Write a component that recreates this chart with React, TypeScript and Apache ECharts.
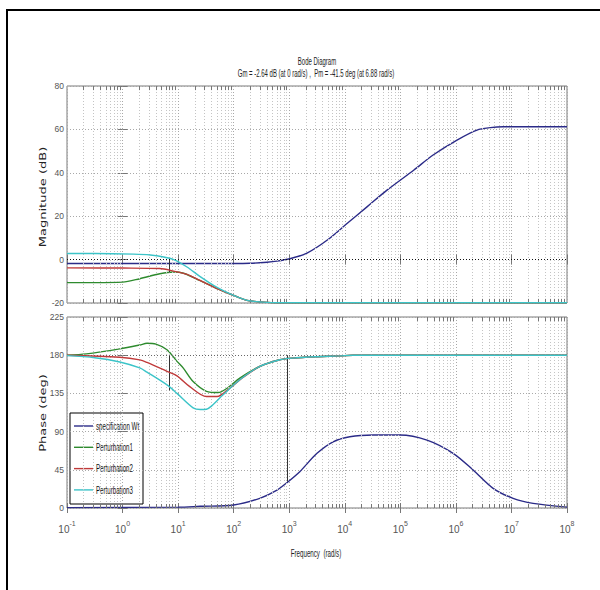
import React, { useEffect, useRef } from "react";
import * as echarts from "echarts";

// Frequencies are stored as log10(w) exponents (rad/s)
const decadeTicks = [-1, 0, 1, 2, 3, 4, 5, 6, 7, 8];

const specMagX = [-1, 1.4, 2.0, 2.29, 2.6, 2.78, 3.01, 3.32, 3.68, 4.04, 4.4, 4.76, 5.24, 5.59, 6.02, 6.38, 6.62, 6.85, 7.2, 8];
const specMagY = [-1.8, -1.8, -1.8, -1.7, -1.2, -0.7, 0.4, 3.0, 8.9, 16.6, 24.3, 32, 41.2, 48.2, 55.1, 59.7, 60.8, 61.2, 61.2, 61.2];

const p1MagX = [-1, -0.5, 0, 0.31, 0.67, 0.92, 1.1, 1.39, 1.7, 2.0, 2.24, 2.53, 2.8, 3.2, 8];
const p1MagY = [-10.6, -10.6, -10.4, -8.8, -6.5, -5.7, -6.3, -9.6, -13.4, -16.5, -18.8, -19.6, -19.9, -19.9, -19.9];

const p2MagX = [-1, 0, 0.67, 0.92, 1.16, 1.39, 1.7, 2.0, 2.24, 2.53, 2.8, 3.2, 8];
const p2MagY = [-3.8, -3.9, -4.1, -5.3, -6.8, -9.6, -13.4, -16.5, -18.8, -19.6, -19.9, -19.9, -19.9];

const p3MagX = [-1, -0.5, 0.2, 0.5, 0.74, 0.92, 1.16, 1.39, 1.7, 2.0, 2.24, 2.53, 2.8, 3.2, 8];
const p3MagY = [2.8, 2.8, 2.5, 2.1, 1.2, 0, -3.4, -7.7, -12.8, -16.5, -18.8, -19.6, -19.9, -19.9, -19.9];

const specPhX = [-1, 1.0, 1.4, 2.0, 2.47, 2.78, 2.98, 3.19, 3.5, 3.79, 4.09, 4.51, 4.99, 5.48, 5.95, 6.31, 6.67, 7.03, 7.39, 8];
const specPhY = [0.5, 1, 2, 3.5, 11.4, 21, 31, 42.8, 64.4, 78, 84, 86, 86, 80, 64.4, 44.8, 23.2, 11.4, 5.5, 1];

const p1PhX = [-1, -0.65, -0.05, 0.31, 0.44, 0.6, 0.8, 0.98, 1.09, 1.27, 1.51, 1.72, 1.9, 2.11, 2.47, 2.83, 3.07, 3.5, 3.91, 4.15, 5, 8];
const p1PhY = [180, 181.5, 187.4, 192, 194, 193, 186.5, 172.7, 165, 149, 137.5, 136, 142, 153, 166.7, 174.6, 176.6, 178.2, 179.2, 180, 180, 180];

const p2PhX = [-1, -0.05, 0.31, 0.44, 0.8, 0.98, 1.21, 1.51, 1.7, 1.93, 2.11, 2.47, 2.83, 3.07, 3.5, 3.91, 4.15, 5, 8];
const p2PhY = [180, 177.5, 174.5, 171.5, 161, 155.7, 143, 131.3, 131.3, 141, 151, 166.7, 174.6, 176.6, 178.2, 179.2, 180, 180, 180];

const p3PhX = [-1, -0.5, -0.05, 0.31, 0.44, 0.8, 0.98, 1.27, 1.4, 1.51, 1.6, 1.81, 2.11, 2.47, 2.83, 3.07, 3.5, 3.91, 4.15, 5, 8];
const p3PhY = [179.5, 177, 172, 165, 160, 145, 135, 118, 116, 116.4, 120, 133.3, 151, 166.7, 174.6, 176.6, 178.2, 179.2, 180, 180, 180];

// margin marker lines: [xExp, yFrom, yTo]
const magMarginLines = [[0.838, 0, -6]];
const phaseMarginLines = [[0.838, 180, 138.5], [2.97, 180, 31]];

const seriesNames = ["specification Wt", "Perturbation1", "Perturbation2", "Perturbation3"];
const seriesColors = ["#2b2b88", "#2e8b2e", "#c03a3a", "#3cc4c8"];

const titleLine1 = "Bode Diagram";
const titleLine2 = "Gm = -2.64 dB (at 0 rad/s) ,  Pm = -41.5 deg (at 6.88 rad/s)";

const pair = (xs: number[], ys: number[]) => xs.map((x, i) => [x, ys[i]]);

const minorExps: number[] = [];
for (let n = -1; n < 8; n++) {
  for (let k = 2; k <= 9; k++) minorExps.push(n + Math.log10(k));
}

const SANS = "'Liberation Sans', Arial, sans-serif";

export default function App() {
  const ref = useRef<HTMLDivElement>(null);
  useEffect(() => {
    if (!ref.current) return;
    const chart = echarts.init(ref.current, undefined, { renderer: "svg" });

    const grids = [
      { min: -20, max: 80, interval: 20, tick: 1.9 },
      { min: 0, max: 225, interval: 45, tick: 4.7 },
    ];

    const xAxes: any[] = [];
    [0, 1].forEach((g) => {
      xAxes.push({
        type: "value",
        gridIndex: g,
        min: decadeTicks[0],
        max: decadeTicks[decadeTicks.length - 1],
        interval: 1,
        axisLine: { show: false },
        axisTick: { show: true, inside: true, length: 5, lineStyle: { color: "#777" } },
        splitLine: { show: true, lineStyle: { type: [1, 2], color: "#a8a8a8", width: 1 } },
        axisLabel:
          g === 1
            ? {
                show: true,
                margin: 12,
                formatter: (v: number) => `{b|10}{s|${Math.round(v)}}`,
                rich: {
                  b: { fontSize: 10, fontFamily: SANS, color: "#555", lineHeight: 14, verticalAlign: "bottom" },
                  s: { fontSize: 7, fontFamily: SANS, color: "#555", lineHeight: 14, verticalAlign: "top" },
                },
              }
            : { show: false },
      });
    });
    [0, 1].forEach((g) => {
      xAxes.push({
        type: "value",
        gridIndex: g,
        position: "top",
        min: -1,
        max: 8,
        interval: 1,
        axisLine: { show: false },
        axisTick: { show: true, inside: true, length: 5, lineStyle: { color: "#777" } },
        splitLine: { show: false },
        axisLabel: { show: false },
      });
    });

    const yAxes: any[] = [];
    [0, 1].forEach((g) => {
      yAxes.push({
        type: "value",
        gridIndex: g,
        min: grids[g].min,
        max: grids[g].max,
        interval: grids[g].interval,
        axisLine: { show: false },
        axisTick: { show: true, inside: true, length: 5, lineStyle: { color: "#777" } },
        splitLine: { show: true, lineStyle: { type: [1, 2], color: "#a8a8a8", width: 1 } },
        axisLabel: { show: true, fontSize: 8.5, fontFamily: SANS, color: "#555", margin: 3 },
      });
    });
    [0, 1].forEach((g) => {
      yAxes.push({
        type: "value",
        gridIndex: g,
        position: "right",
        min: grids[g].min,
        max: grids[g].max,
        interval: grids[g].interval,
        axisLine: { show: false },
        axisTick: { show: true, inside: true, length: 5, lineStyle: { color: "#777" } },
        splitLine: { show: false },
        axisLabel: { show: false },
      });
    });

    const lineSeries = (name: string, data: number[][], color: string, g: number, z: number) => ({
      type: "line",
      name,
      xAxisIndex: g,
      yAxisIndex: g,
      data,
      showSymbol: false,
      symbol: "none",
      smooth: 0.3,
      lineStyle: { color, width: 1.4 },
      z,
      silent: true,
    });

    const helperSeries = (g: number) => {
      const { min, max, tick } = grids[g];
      const data: any[] = [];
      minorExps.forEach((x) => {
        data.push([
          { coord: [x, min], lineStyle: { type: [1, 2], color: "#c4c4c4", width: 1 } },
          { coord: [x, max] },
        ]);
        data.push([
          { coord: [x, min], lineStyle: { type: "solid", color: "#777", width: 1 } },
          { coord: [x, min + tick] },
        ]);
        data.push([
          { coord: [x, max], lineStyle: { type: "solid", color: "#777", width: 1 } },
          { coord: [x, max - tick] },
        ]);
      });
      const margins = g === 0 ? magMarginLines : phaseMarginLines;
      margins.forEach(([x, y1, y2]) => {
        data.push([
          { coord: [x, y1], lineStyle: { type: "solid", color: "#333", width: 1 } },
          { coord: [x, y2] },
        ]);
      });
      data.push({
        yAxis: g === 0 ? 0 : 180,
        lineStyle: { type: [1, 2], color: g === 0 ? "#111" : "#666", width: 1 },
      });
      return {
        type: "line",
        xAxisIndex: g,
        yAxisIndex: g,
        data: [[-1, min]],
        showSymbol: false,
        symbol: "none",
        lineStyle: { width: 0 },
        silent: true,
        z: 1,
        markLine: {
          silent: true,
          symbol: "none",
          label: { show: false },
          animation: false,
          data,
        },
      };
    };

    const legendRows = seriesNames.map((n, i) => {
      const y = 426 + i * 21.3;
      return [
        { type: "line", shape: { x1: 74, y1: y, x2: 93, y2: y }, style: { stroke: seriesColors[i], lineWidth: 1.4 } },
        {
          type: "text",
          x: 96,
          y,
          scaleX: 0.56,
          style: { text: n, fontSize: 11, fontFamily: SANS, fill: "#111", verticalAlign: "middle", align: "left" },
        },
      ];
    }).flat();

    const option: any = {
      animation: false,
      backgroundColor: "#fff",
      grid: [
        { left: 67, top: 86, width: 500, height: 217, show: true, borderColor: "#7a7a7a", borderWidth: 1, backgroundColor: "#fff" },
        { left: 67, top: 317, width: 500, height: 191, show: true, borderColor: "#7a7a7a", borderWidth: 1, backgroundColor: "#fff" },
      ],
      xAxis: xAxes,
      yAxis: yAxes,
      series: [
        helperSeries(0),
        helperSeries(1),
        lineSeries(seriesNames[0], pair(specMagX, specMagY), seriesColors[0], 0, 3),
        lineSeries(seriesNames[1], pair(p1MagX, p1MagY), seriesColors[1], 0, 4),
        lineSeries(seriesNames[2], pair(p2MagX, p2MagY), seriesColors[2], 0, 5),
        lineSeries(seriesNames[3], pair(p3MagX, p3MagY), seriesColors[3], 0, 6),
        lineSeries(seriesNames[0], pair(specPhX, specPhY), seriesColors[0], 1, 3),
        lineSeries(seriesNames[1], pair(p1PhX, p1PhY), seriesColors[1], 1, 4),
        lineSeries(seriesNames[2], pair(p2PhX, p2PhY), seriesColors[2], 1, 5),
        lineSeries(seriesNames[3], pair(p3PhX, p3PhY), seriesColors[3], 1, 6),
      ],
      graphic: [
        {
          type: "rect",
          z: -1,
          shape: { x: 7, y: 10, width: 700, height: 700 },
          style: { fill: "none", stroke: "#000", lineWidth: 2 },
        },
        {
          type: "text",
          x: 317,
          y: 62,
          scaleX: 0.6,
          style: { text: titleLine1, fontSize: 10, fontFamily: SANS, fill: "#222", align: "center", verticalAlign: "middle" },
        },
        {
          type: "text",
          x: 316,
          y: 74,
          scaleX: 0.6,
          style: { text: titleLine2, fontSize: 10, fontFamily: SANS, fill: "#222", align: "center", verticalAlign: "middle" },
        },
        {
          type: "text",
          x: 316,
          y: 553,
          scaleX: 0.62,
          style: { text: "Frequency  (rad/s)", fontSize: 10, fontFamily: SANS, fill: "#222", align: "center", verticalAlign: "middle" },
        },
        {
          type: "text",
          x: 43,
          y: 197,
          rotation: Math.PI / 2,
          scaleX: 1.45,
          style: { text: "Magnitude (dB)", fontSize: 9, fontFamily: "'DejaVu Sans', sans-serif", fill: "#222", align: "center", verticalAlign: "middle" },
        },
        {
          type: "text",
          x: 43,
          y: 413,
          rotation: Math.PI / 2,
          scaleX: 1.45,
          style: { text: "Phase (deg)", fontSize: 9, fontFamily: "'DejaVu Sans', sans-serif", fill: "#222", align: "center", verticalAlign: "middle" },
        },
        {
          type: "group",
          z: 100,
          children: [
            { type: "rect", shape: { x: 70, y: 413, width: 73, height: 91 }, style: { fill: "#fff", stroke: "#000", lineWidth: 1 } },
            ...legendRows,
          ],
        },
      ],
    };

    chart.setOption(option);
    return () => chart.dispose();
  }, []);

  return (
    <div
      ref={ref}
      style={{ position: "absolute", left: 0, top: 0, width: 600, height: 590, background: "#fff" }}
    />
  );
}
